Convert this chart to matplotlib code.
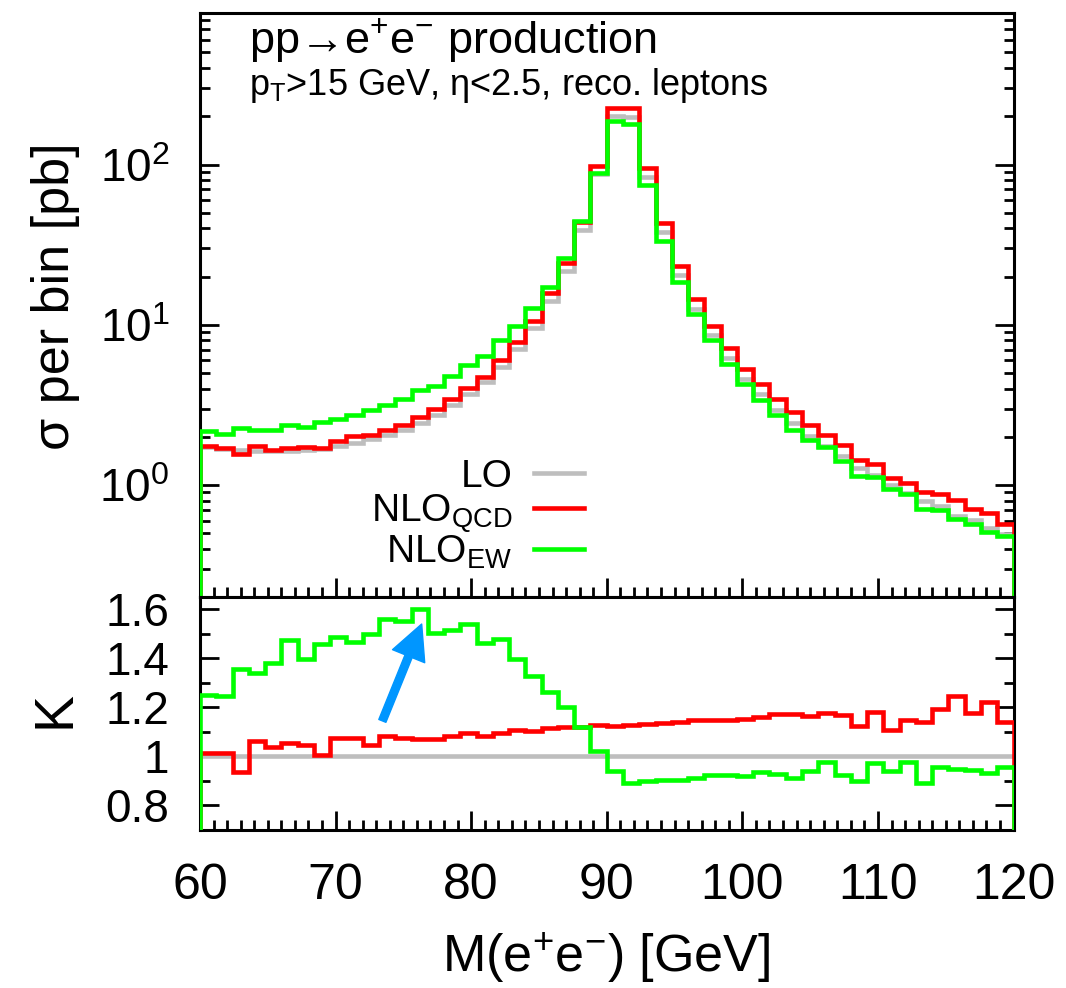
import numpy as np
import matplotlib
matplotlib.use("Agg")
import matplotlib.pyplot as plt
from matplotlib.ticker import MultipleLocator, LogLocator, NullFormatter, FuncFormatter
from matplotlib.lines import Line2D

plt.rcParams['font.family'] = ['Liberation Sans', 'DejaVu Sans']
plt.rcParams['mathtext.fontset'] = 'custom'
plt.rcParams['mathtext.rm'] = 'Liberation Sans'
plt.rcParams['mathtext.it'] = 'Liberation Sans:italic'
plt.rcParams['mathtext.bf'] = 'Liberation Sans:bold'
plt.rcParams['mathtext.sf'] = 'Liberation Sans'
plt.rcParams['mathtext.default'] = 'regular'

# 50 bins of 1.2 GeV between 60 and 120 GeV
m_min, m_max, n_bins = 60.0, 120.0, 50

# sigma per bin [pb]
lo = [1.72, 1.69, 1.66, 1.64, 1.62, 1.63, 1.65, 1.69, 1.75, 1.84,
      1.94, 2.06, 2.22, 2.44, 2.75, 3.17, 3.68, 4.40, 5.45, 7.05,
      9.5, 14.1, 21.8, 39.2, 87.0, 202.0, 198.0, 83.7, 37.9, 20.4,
      12.6, 8.59, 6.23, 4.61, 3.68, 2.95, 2.43, 2.03, 1.75, 1.51,
      1.28, 1.15, 1.00, 0.896, 0.795, 0.739, 0.645, 0.605, 0.543, 0.498]
nlo_qcd = [1.75, 1.71, 1.57, 1.76, 1.65, 1.70, 1.73, 1.71, 1.88, 2.01,
           2.05, 2.21, 2.38, 2.64, 2.97, 3.45, 4.01, 4.75, 6.00, 7.83,
           10.5, 15.8, 24.4, 44.0, 97.5, 225.0, 224.0, 94.7, 43.0, 23.3,
           14.5, 9.86, 7.16, 5.32, 4.27, 3.46, 2.86, 2.36, 2.06, 1.77,
           1.44, 1.36, 1.11, 1.03, 0.908, 0.882, 0.805, 0.711, 0.665, 0.568]
nlo_ew = [2.16, 2.09, 2.27, 2.22, 2.20, 2.38, 2.30, 2.47, 2.59, 2.72,
          2.92, 3.17, 3.44, 3.93, 4.17, 4.81, 5.63, 6.41, 8.07, 9.87,
          12.7, 17.3, 26.1, 44.1, 89.0, 187.0, 179.0, 74.5, 33.5, 18.4,
          11.7, 8.00, 5.72, 4.27, 3.41, 2.72, 2.22, 1.92, 1.73, 1.41,
          1.14, 1.12, 0.938, 0.877, 0.711, 0.697, 0.615, 0.573, 0.508, 0.480]

# K factors
k_qcd = [1.014, 1.014, 0.936, 1.065, 1.038, 1.053, 1.047, 1.007, 1.075, 1.077,
         1.047, 1.085, 1.077, 1.072, 1.070, 1.083, 1.096, 1.083, 1.096, 1.108,
         1.102, 1.118, 1.121, 1.122, 1.127, 1.126, 1.129, 1.131, 1.136, 1.142,
         1.148, 1.148, 1.150, 1.153, 1.161, 1.173, 1.175, 1.163, 1.178, 1.169,
         1.126, 1.180, 1.106, 1.150, 1.142, 1.194, 1.248, 1.176, 1.224, 1.140]
k_ew = [1.252, 1.248, 1.356, 1.339, 1.381, 1.476, 1.397, 1.458, 1.486, 1.465,
        1.499, 1.560, 1.553, 1.603, 1.505, 1.516, 1.539, 1.461, 1.478, 1.397,
        1.329, 1.264, 1.203, 1.122, 1.022, 0.939, 0.892, 0.898, 0.902, 0.904,
        0.913, 0.925, 0.923, 0.920, 0.936, 0.927, 0.913, 0.940, 0.977, 0.925,
        0.900, 0.974, 0.939, 0.977, 0.893, 0.959, 0.950, 0.943, 0.932, 0.959]

edges = np.linspace(m_min, m_max, n_bins + 1)

c_lo, c_qcd, c_ew = '#bebebe', '#ff0000', '#00ff00'
lw = 3.3

fig = plt.figure(figsize=(10.66, 9.88), dpi=100)
ax1 = fig.add_axes([0.1876, 0.3957, 0.7632, 0.5914])
ax2 = fig.add_axes([0.1876, 0.1599, 0.7632, 0.2358], sharex=ax1)

# upper panel: cross sections
ax1.set_yscale('log')
ax1.stairs(lo, edges, baseline=1e-3, color=c_lo, lw=lw, zorder=2)
ax1.stairs(nlo_qcd, edges, baseline=1e-3, color=c_qcd, lw=lw, zorder=3)
ax1.stairs(nlo_ew, edges, baseline=1e-3, color=c_ew, lw=lw, zorder=4)
ax1.set_xlim(m_min, m_max)
ax1.set_ylim(0.2, 885)

# lower panel: K factors
ax2.axhline(1.0, color=c_lo, lw=lw, zorder=2)
ax2.stairs(k_qcd, edges, baseline=0, color=c_qcd, lw=lw, zorder=3)
ax2.stairs(k_ew, edges, baseline=0, color=c_ew, lw=lw, zorder=4)
ax2.set_ylim(0.7, 1.65)

ax2.annotate('', xy=(76.35, 1.54), xytext=(73.45, 1.145),
             arrowprops=dict(arrowstyle='simple,head_length=1.0,head_width=1.0,tail_width=0.22',
                             mutation_scale=25, color='#0096ff', shrinkA=0, shrinkB=0))

# ticks and frames
for ax in (ax1, ax2):
    for sp in ax.spines.values():
        sp.set_linewidth(2.2)
    ax.xaxis.set_major_locator(MultipleLocator(10))
    ax.xaxis.set_minor_locator(MultipleLocator(1))
    ax.tick_params(which='both', direction='in', top=False, right=True, width=2)
    ax.tick_params(which='major', length=14)
    ax.tick_params(which='minor', length=7)
    ax.tick_params(axis='y', labelsize=33, pad=22)

ax1.yaxis.set_major_locator(LogLocator(base=10, numticks=10))
ax1.yaxis.set_minor_locator(LogLocator(base=10, subs=np.arange(2, 10), numticks=20))
ax1.yaxis.set_minor_formatter(NullFormatter())
ax1.tick_params(axis='x', labelbottom=False)

ax2.yaxis.set_major_locator(MultipleLocator(0.2))
ax2.yaxis.set_minor_locator(MultipleLocator(0.1))
ax2.yaxis.set_major_formatter(FuncFormatter(lambda v, p: '%g' % round(v, 2)))
ax2.tick_params(axis='x', labelsize=36, pad=24)

# texts
ax1.text(0.060, 0.931, 'pp→e$^{+}$e$^{-}$ production', transform=ax1.transAxes,
         fontsize=32.5, va='baseline', ha='left')
ax1.text(0.060, 0.859, 'p$_{T}$>15 GeV, η<2.5, reco. leptons', transform=ax1.transAxes,
         fontsize=26, va='baseline', ha='left')

fig.text(0.0516, 0.700, 'σ per bin [pb]', rotation=90, ha='center', va='center',
         fontsize=37.5)
fig.text(0.0516, 0.2814, 'K', rotation=90, ha='center', va='center',
         fontsize=40)
fig.text(0.569, 0.016, 'M(e$^{+}$e$^{-}$) [GeV]', ha='center', va='baseline',
         fontsize=37.5)

handles = [Line2D([], [], color=c_lo, lw=lw),
           Line2D([], [], color=c_qcd, lw=lw),
           Line2D([], [], color=c_ew, lw=lw)]
labels = ['LO', 'NLO$_{QCD}$', 'NLO$_{EW}$']
ax1.legend(handles, labels, loc='lower right', bbox_to_anchor=(0.4726, 0.045),
           markerfirst=False, frameon=False, fontsize=28, handlelength=1.3,
           handletextpad=0.55, labelspacing=-0.05, borderpad=0, borderaxespad=0)

fig.savefig('out.png', dpi=100)
